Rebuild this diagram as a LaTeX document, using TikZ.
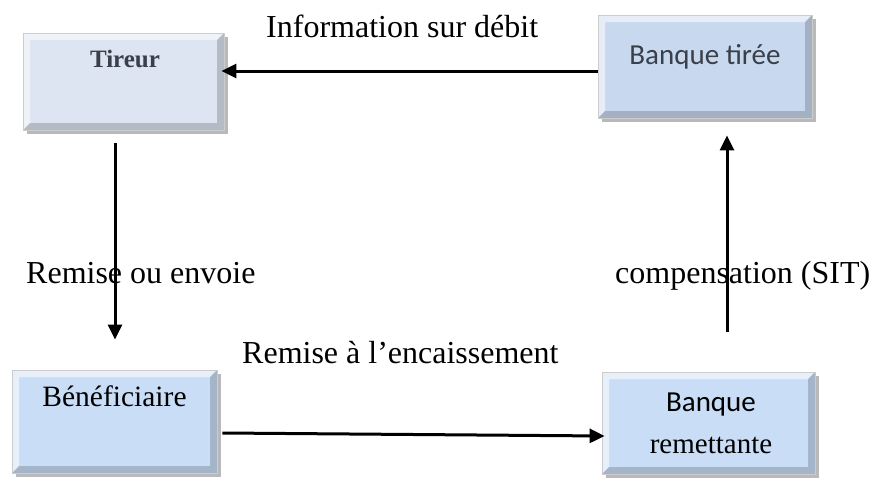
\documentclass[tikz,border=0pt]{standalone}
\usepackage{fontspec}
\setmainfont{Liberation Serif}
\newfontfamily\calibri{Carlito}
\usetikzlibrary{arrows.meta,positioning,shadows}
\definecolor{paleblue}{HTML}{DCE5F1}
\definecolor{midblue}{HTML}{C8D9EF}
\definecolor{lightblue}{HTML}{C9DDF6}
\definecolor{boxtext}{HTML}{3A3F4A}

\begin{document}
\begin{tikzpicture}[>={Triangle[length=15pt,width=14pt]},x=1pt,y=-1pt]
\tikzstyle{box}=[rectangle,draw=black!20,line width=0.8pt,
  drop shadow={shadow xshift=4pt,shadow yshift=-4pt,fill=black!55,opacity=0.5},
  path picture={
    \fill[white,opacity=0.55] (path picture bounding box.north west) -- (path picture bounding box.north east)
      -- ([xshift=-7pt,yshift=-7pt]path picture bounding box.north east) -- ([xshift=7pt,yshift=-7pt]path picture bounding box.north west)
      -- ([xshift=7pt,yshift=7pt]path picture bounding box.south west) -- (path picture bounding box.south west) -- cycle;
    \fill[black,opacity=0.18] (path picture bounding box.south west) -- (path picture bounding box.south east)
      -- (path picture bounding box.north east) -- ([xshift=-7pt,yshift=-7pt]path picture bounding box.north east)
      -- ([xshift=-7pt,yshift=7pt]path picture bounding box.south east) -- ([xshift=7pt,yshift=7pt]path picture bounding box.south west) -- cycle;
  }]
\tikzstyle{flow}=[->,line width=3pt]
\tikzstyle{lbl}=[inner sep=0pt,anchor=base west,font=\fontsize{32}{38}\selectfont]

\useasboundingbox (0,0) rectangle (871,479);

% boxes
\node[box,fill=paleblue,minimum width=201pt,minimum height=97pt]  (tireur) at (123.5,81.5) {};
\node[box,fill=midblue,minimum width=214pt,minimum height=103pt]  (tiree)  at (705,66.5) {};
\node[box,fill=lightblue,minimum width=205pt,minimum height=103pt] (benef) at (114.5,421.5) {};
\node[box,fill=lightblue,minimum width=213pt,minimum height=102pt] (remet) at (708.5,423) {};

% box texts
\node[anchor=base,text=boxtext,font=\fontsize{25}{30}\selectfont\bfseries] (tireurtxt) at ([xshift=1.5pt,yshift=-35pt]tireur.north) {Tireur};
\node[anchor=base,text=boxtext,font=\calibri\fontsize{29}{35}\selectfont] (tireetxt) at ([yshift=-50pt]tiree.north) {Banque tirée};
\node[anchor=base,font=\fontsize{29.5}{35}\selectfont] (beneftxt) at ([yshift=-37pt]benef.north) {Bénéficiaire};
\node[align=center,font=\fontsize{29}{42}\selectfont] (remettxt) at ([xshift=2.5pt]remet.center) {{\calibri Banque}\\remettante};

% flows
\draw[flow] ([yshift=-4.5pt]tiree.west) -- ([xshift=-3pt,yshift=10.5pt]tireur.east);
\draw[flow] ([xshift=-8.5pt,yshift=-13pt]tireur.south) -- ([xshift=0.5pt,yshift=30pt]benef.north);
\draw[flow] ([xshift=5pt,yshift=-11.5pt]benef.east) -- ([xshift=3pt,yshift=-13pt]remet.west);
\draw[flow] ([xshift=18.5pt,yshift=40pt]remet.north) -- ([xshift=22pt,yshift=-17pt]tiree.south);

% labels
\node[lbl] (debit)   at (266,37)  {Information sur débit};
\node[lbl] (envoi)   at (26,283)  {Remise ou envoie};
\node[lbl] (compens) at (615,283) {compensation (SIT)};
\node[lbl] (encaiss) at (242,363) {Remise à l’encaissement};
\end{tikzpicture}
\end{document}
